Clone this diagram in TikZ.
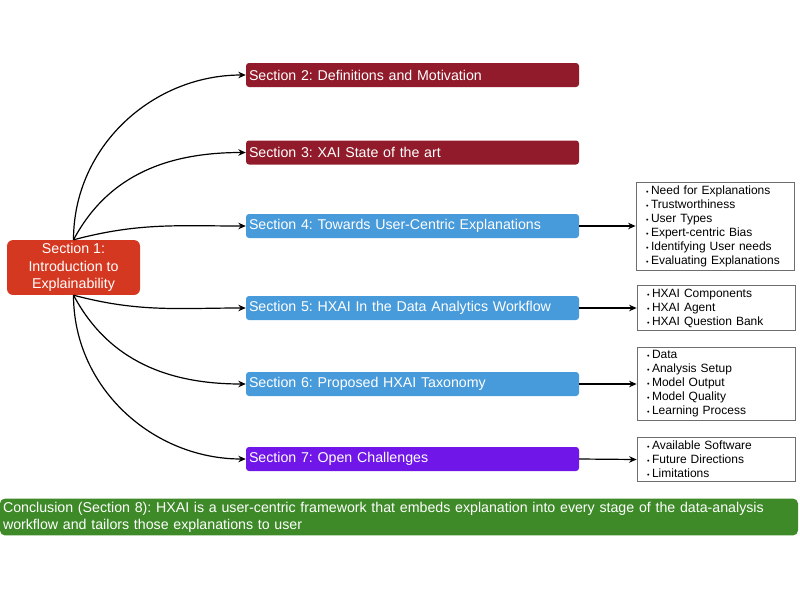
\documentclass[tikz,border=0pt]{standalone}
\usepackage{fontspec}
\setmainfont{Liberation Sans}
\usetikzlibrary{arrows.meta,positioning}
\definecolor{secred}{RGB}{213,56,32}
\definecolor{wine}{RGB}{145,27,43}
\definecolor{skyblue}{RGB}{72,155,218}
\definecolor{violet}{RGB}{112,22,232}
\definecolor{leafgreen}{RGB}{62,138,40}
\definecolor{framegray}{RGB}{110,110,110}
\newcommand{\itm}{\scalebox{0.6}{\textbullet}\hspace{2.5pt}}
\frenchspacing

\begin{document}
\begin{tikzpicture}[x=1pt,y=-1pt,
  secbox/.style={rectangle,rounded corners=3pt,minimum width=333pt,
    minimum height=24pt,text width=327pt,inner xsep=3pt,align=left,
    text=white,font=\fontsize{14.2}{15}\selectfont},
  listbox/.style={rectangle,draw=framegray,line width=0.8pt,
    minimum width=158pt,text width=138pt,inner xsep=10pt,align=left,
    font=\fontsize{12}{14}\selectfont},
  link/.style={-{Stealth[length=7.5pt,width=6.5pt]},line width=1.2pt,black}
]
  \useasboundingbox (0,0) rectangle (800,600);

  % starting box
  \node[rectangle,rounded corners=6pt,fill=secred,text=white,
    minimum width=133pt,minimum height=51pt,align=center,
    font=\fontsize{14.2}{17.5}\selectfont] (s1) at (73.5,267.5)
    {Section 1:\\Introduction to\\Explainability};

  % section boxes
  \node[secbox,fill=wine] (s2) at (412.5,75) {Section 2: Definitions and Motivation};
  \node[secbox,fill=wine] (s3) at (412.5,152.5) {Section 3: XAI State of the art};
  \node[secbox,fill=skyblue] (s4) at (412.5,226) {Section 4: Towards User-Centric Explanations};
  \node[secbox,fill=skyblue] (s5) at (412.5,308) {Section 5: HXAI In the Data Analytics Workflow};
  \node[secbox,fill=skyblue] (s6) at (412.5,384) {Section 6: Proposed HXAI Taxonomy};
  \node[secbox,fill=violet] (s7) at (412.5,459) {Section 7: Open Challenges};

  % topic lists
  \node[listbox,minimum height=84pt] (l4) at (715,226)
    {\itm Need for Explanations\\\itm Trustworthiness\\\itm User Types\\
     \itm Expert-centric Bias\\\itm Identifying User needs\\\itm Evaluating Explanations};
  \node[listbox,minimum height=44pt] (l5) at (716,308)
    {\itm HXAI Components\\\itm HXAI Agent\\\itm HXAI Question Bank};
  \node[listbox,minimum height=70pt] (l6) at (716,384)
    {\itm Data\\\itm Analysis Setup\\\itm Model Output\\\itm Model Quality\\\itm Learning Process};
  \node[listbox,minimum height=43pt] (l7) at (716,459.5)
    {\itm Available Software\\\itm Future Directions\\\itm Limitations};

  % conclusion
  \node[rectangle,rounded corners=5pt,fill=leafgreen,text=white,
    minimum width=798pt,minimum height=36pt,text width=792pt,inner xsep=3pt,
    align=left,font=\fontsize{14.2}{17}\selectfont] (concl) at (399,517)
    {Conclusion (Section 8): HXAI is a user-centric framework that embeds explanation into every stage of the data-analysis workflow and tailors those explanations to user};

  % connectors
  \draw[link] (s1.north) to[out=90,in=180] (s2.west);
  \draw[link] (s1.north) to[out=62,in=180] (s3.west);
  \draw[link] (s1.north) to[out=15,in=180] (s4.west);
  \draw[link] (s1.south) to[out=-15,in=180] (s5.west);
  \draw[link] (s1.south) to[out=-62,in=180] (s6.west);
  \draw[link] (s1.south) to[out=-90,in=180] (s7.west);
  \draw[link] (s4.east) -- (l4.west);
  \draw[link] (s5.east) -- (l5.west);
  \draw[link] (s6.east) -- (l6.west);
  \draw[link] (s7.east) -- (l7.west);
\end{tikzpicture}
\end{document}
